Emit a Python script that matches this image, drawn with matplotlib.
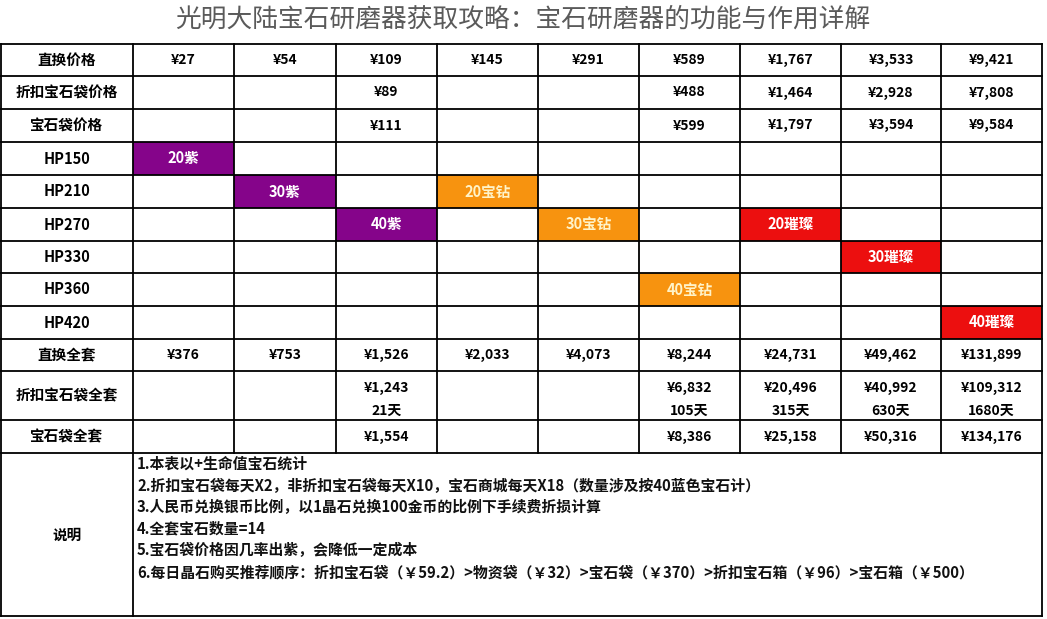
import matplotlib.pyplot as plt
from matplotlib.patches import Rectangle

plt.rcParams["font.family"] = ["Noto Sans CJK SC", "DejaVu Sans"]

title = "光明大陆宝石研磨器获取攻略：宝石研磨器的功能与作用详解"

# table data
direct_price = ["¥27", "¥54", "¥109", "¥145", "¥291", "¥589", "¥1,767", "¥3,533", "¥9,421"]
discount_bag_price = ["", "", "¥89", "", "", "¥488", "¥1,464", "¥2,928", "¥7,808"]
bag_price = ["", "", "¥111", "", "", "¥599", "¥1,797", "¥3,594", "¥9,584"]
hp_levels = ["HP150", "HP210", "HP270", "HP330", "HP360", "HP420"]
direct_set = ["¥376", "¥753", "¥1,526", "¥2,033", "¥4,073", "¥8,244", "¥24,731", "¥49,462", "¥131,899"]
discount_set = ["", "", "¥1,243", "", "", "¥6,832", "¥20,496", "¥40,992", "¥109,312"]
discount_days = ["", "", "21天", "", "", "105天", "315天", "630天", "1680天"]
bag_set = ["", "", "¥1,554", "", "", "¥8,386", "¥25,158", "¥50,316", "¥134,176"]

gem_hp = ["HP150", "HP210", "HP210", "HP270", "HP270", "HP270", "HP330", "HP360", "HP420"]
gem_col = [0, 1, 3, 2, 4, 6, 7, 5, 8]
gem_text = ["20紫", "30紫", "20宝钻", "40紫", "30宝钻", "20璀璨", "30璀璨", "40宝钻", "40璀璨"]
gem_kind = ["紫", "紫", "宝钻", "紫", "宝钻", "璀璨", "璀璨", "宝钻", "璀璨"]

notes = [
    "1.本表以+生命值宝石统计",
    "2.折扣宝石袋每天X2，非折扣宝石袋每天X10，宝石商城每天X18（数量涉及按40蓝色宝石计）",
    "3.人民币兑换银币比例，以1晶石兑换100金币的比例下手续费折损计算",
    "4.全套宝石数量=14",
    "5.宝石袋价格因几率出紫，会降低一定成本",
    "6.每日晶石购买推荐顺序：折扣宝石袋（￥59.2）>物资袋（￥32）>宝石袋（￥370）>折扣宝石箱（￥96）>宝石箱（￥500）",
]

kind_color = {"紫": "#85048a", "宝钻": "#f7930f", "璀璨": "#ec0f0f"}
kind_text = {"紫": "white", "宝钻": "#fff3c8", "璀璨": "white"}

# layout in pixels
col_edges = [1, 133, 234, 336, 437, 538, 639, 740, 841, 941, 1042]
row_edges = [44, 76, 109, 142, 175, 208, 241, 273, 306, 339, 371, 420, 453, 616]

fig = plt.figure(figsize=(10.47, 6.19), dpi=100)
ax = fig.add_axes([0, 0, 1, 1])
ax.set_xlim(0, 1047)
ax.set_ylim(619, 0)
ax.axis("off")

ax.text(523, 20, title, ha="center", va="center", fontsize=18.5, color="#5a5a5a")

def cx(c):
    return (col_edges[c] + col_edges[c + 1]) / 2

def cy(r):
    return (row_edges[r] + row_edges[r + 1]) / 2

# colored gem cells
for hp, c, t, k in zip(gem_hp, gem_col, gem_text, gem_kind):
    r = 3 + hp_levels.index(hp)
    ax.add_patch(Rectangle((col_edges[c + 1], row_edges[r]),
                           col_edges[c + 2] - col_edges[c + 1],
                           row_edges[r + 1] - row_edges[r],
                           facecolor=kind_color[k], edgecolor="none", zorder=1))
    ax.text(cx(c + 1), cy(r), t, ha="center", va="center", fontsize=10.5,
            fontweight="bold", color=kind_text[k], zorder=3)

row_labels = ["直换价格", "折扣宝石袋价格", "宝石袋价格"] + hp_levels + \
             ["直换全套", "折扣宝石袋全套", "宝石袋全套", "说明"]
for r, lab in enumerate(row_labels):
    ax.text(cx(0), cy(r), lab, ha="center", va="center", fontsize=10.5,
            fontweight="bold", color="black", zorder=3)

value_rows = {0: direct_price, 1: discount_bag_price, 2: bag_price,
              9: direct_set, 11: bag_set}
for r, vals in value_rows.items():
    for c, v in enumerate(vals):
        ax.text(cx(c + 1), cy(r), v, ha="center", va="center", fontsize=10,
                fontweight="bold", color="black", zorder=3)

for c, (v, d) in enumerate(zip(discount_set, discount_days)):
    ax.text(cx(c + 1), row_edges[10] + 17, v, ha="center", va="center",
            fontsize=10, fontweight="bold", zorder=3)
    ax.text(cx(c + 1), row_edges[10] + 40, d, ha="center", va="center",
            fontsize=10, fontweight="bold", zorder=3)

for i, line in enumerate(notes):
    ax.text(137, 464 + i * 21.6, line, ha="left", va="center", fontsize=10.7,
            fontweight="bold", color="#111111", zorder=3)

# grid lines
lw = 1.3
for y in row_edges:
    ax.plot([col_edges[0], col_edges[-1]], [y, y], color="black", lw=lw, zorder=2)
ax.plot([col_edges[0], col_edges[0]], [row_edges[0], row_edges[-1]], color="black", lw=lw, zorder=2)
ax.plot([col_edges[1], col_edges[1]], [row_edges[0], row_edges[-1]], color="black", lw=lw, zorder=2)
ax.plot([col_edges[-1], col_edges[-1]], [row_edges[0], row_edges[-1]], color="black", lw=lw, zorder=2)
for x in col_edges[2:-1]:
    ax.plot([x, x], [row_edges[0], row_edges[-2]], color="black", lw=lw, zorder=2)

fig.savefig("out.png", dpi=100)
